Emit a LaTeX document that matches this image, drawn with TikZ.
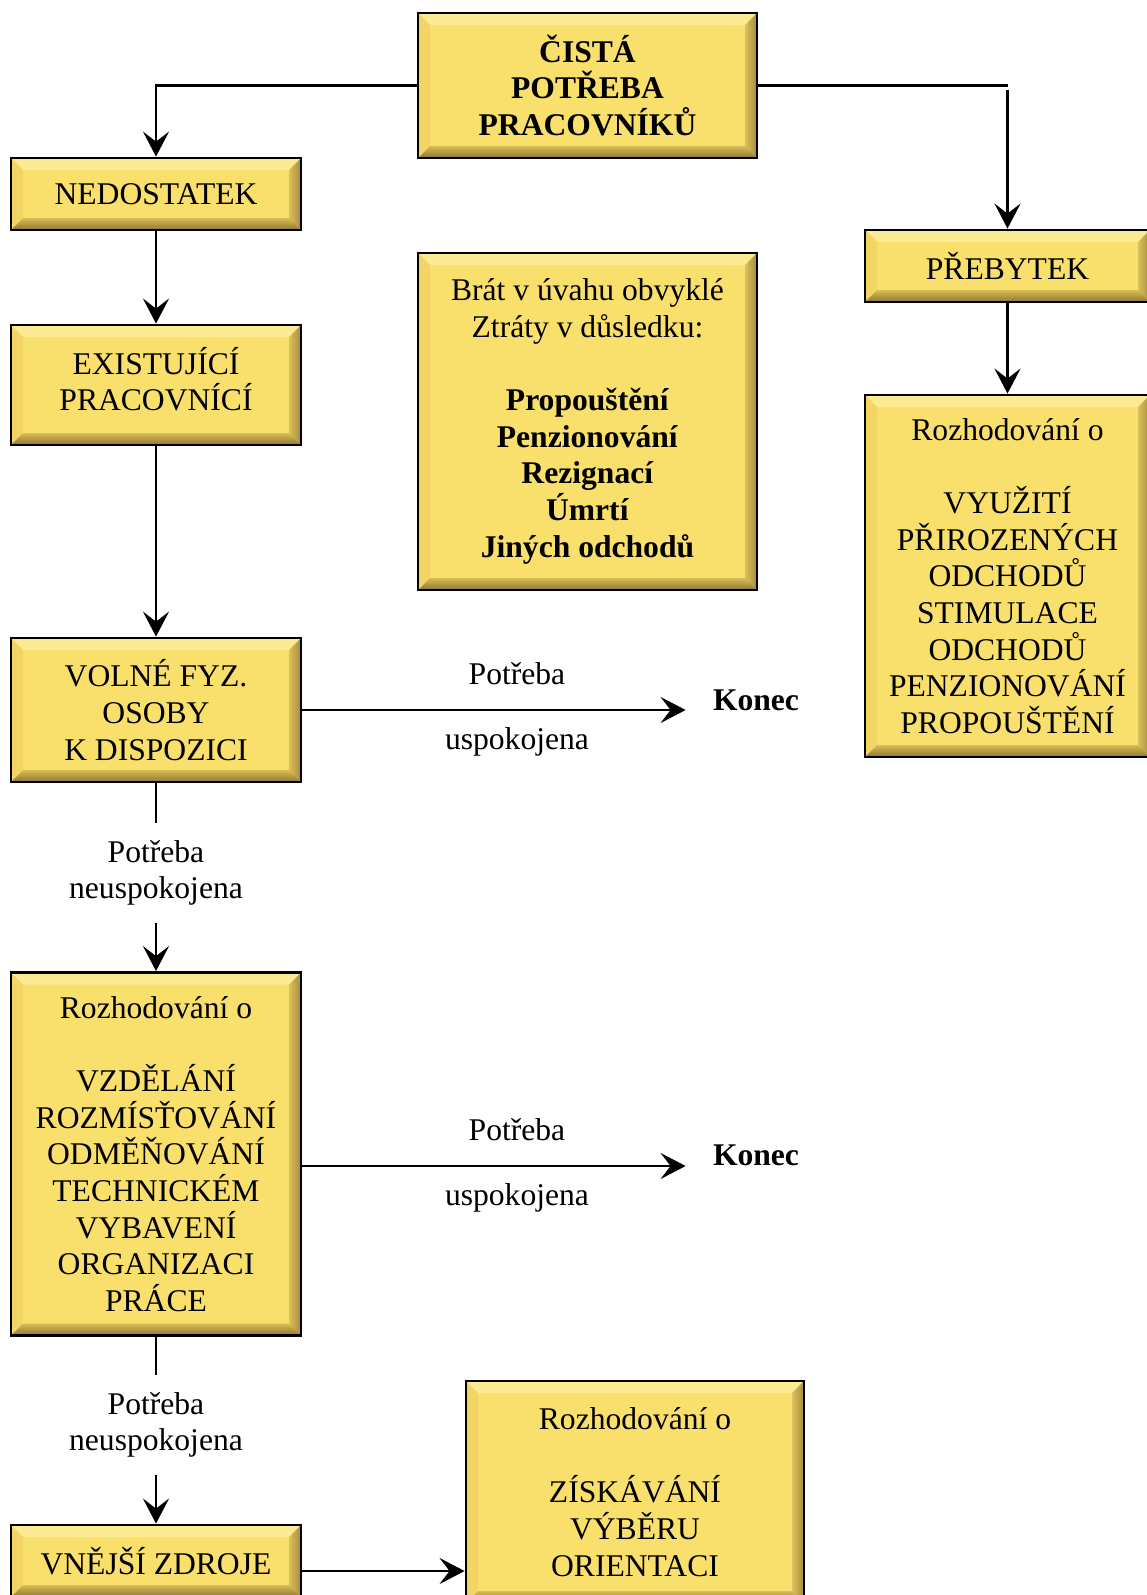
\documentclass[tikz,border=0pt]{standalone}
\usepackage{fontspec}
\setmainfont{Liberation Serif}
\usepackage{xcolor}
\usetikzlibrary{arrows.meta}

\definecolor{boxfill}{HTML}{F9DF6C}
\definecolor{bevtop}{HTML}{FCEB93}
\definecolor{bevleft}{HTML}{F3D565}
\definecolor{bevbotA}{HTML}{D8BC55}
\definecolor{bevbotB}{HTML}{8F7633}
\definecolor{bevrightA}{HTML}{DCC05A}
\definecolor{bevrightB}{HTML}{A48B3E}

\newcommand{\diafont}{\fontsize{15.8}{18.3}\selectfont}

\begin{document}
\begin{tikzpicture}[
    x=0.5pt, y=-0.5pt, line width=1.4pt,
    font=\diafont,
    box/.style={draw=black, fill=boxfill, align=center, inner sep=0pt,
      path picture={
        \path (path picture bounding box.north west) coordinate (pnw)
              (path picture bounding box.north east) coordinate (pne)
              (path picture bounding box.south west) coordinate (psw)
              (path picture bounding box.south east) coordinate (pse);
        \fill[bevtop] (pnw) -- (pne) -- ([shift={(-6pt,-6pt)}]pne) -- ([shift={(6pt,-6pt)}]pnw) -- cycle;
        \fill[bevleft] (pnw) -- ([shift={(6pt,-6pt)}]pnw) -- ([shift={(6pt,6pt)}]psw) -- (psw) -- cycle;
        \shade[left color=bevrightA, right color=bevrightB] (pne) -- (pse) -- ([shift={(-6pt,6pt)}]pse) -- ([shift={(-6pt,-6pt)}]pne) -- cycle;
        \shade[top color=bevbotA, bottom color=bevbotB] (psw) -- (pse) -- ([shift={(-6pt,6pt)}]pse) -- ([shift={(6pt,6pt)}]psw) -- cycle;
      }},
    leftcol/.style={box, minimum width=145pt},
    midcol/.style={box, minimum width=169.5pt},
    rightcol/.style={box, minimum width=142.5pt},
    bold/.style={font=\diafont\bfseries},
    lbl/.style={inner sep=0pt},
    konec/.style={bold, inner xsep=13pt, inner ysep=0pt},
    need/.style={align=center, inner sep=0pt, minimum height=48.5pt},
    arr/.style={-{Stealth[length=12.5pt,width=13pt,inset=5pt]}},
  ]
  \useasboundingbox (0,0) rectangle (1146,1595);

  % boxes
  \node[midcol, minimum height=72.5pt, bold] (cista) at (587.5,85.5) {ČISTÁ\\POTŘEBA\\PRACOVNÍKŮ};
  \node[leftcol, minimum height=36pt] (nedost) at (156,194) {NEDOSTATEK};
  \node[rightcol, minimum height=36pt] (prebyt) at (1007.5,266) {PŘEBYTEK};
  \node[leftcol, minimum height=60pt, text depth=6pt] (exist) at (156,385) {EXISTUJÍCÍ\\PRACOVNÍCÍ};
  \node[midcol, minimum height=168.5pt] (brat) at (587.5,421.5)
    {Brát v úvahu obvyklé\\Ztráty v důsledku:\\[\baselineskip]
     \textbf{Propouštění}\\\textbf{Penzionování}\\\textbf{Rezignací}\\\textbf{Úmrtí}\\\textbf{Jiných odchodů}};
  \node[rightcol, minimum height=181pt] (rozR) at (1007.5,576)
    {Rozhodování o\\[\baselineskip]VYUŽITÍ\\PŘIROZENÝCH\\ODCHODŮ\\STIMULACE\\ODCHODŮ\\PENZIONOVÁNÍ\\PROPOUŠTĚNÍ};
  \node[leftcol, minimum height=72pt] (volne) at (156,710) {VOLNÉ FYZ.\\OSOBY\\K DISPOZICI};
  \node[leftcol, minimum height=181.5pt] (rozL) at (156,1154)
    {Rozhodování o\\[\baselineskip]VZDĚLÁNÍ\\ROZMÍSŤOVÁNÍ\\ODMĚŇOVÁNÍ\\TECHNICKÉM\\VYBAVENÍ\\ORGANIZACI\\PRÁCE};
  \node[leftcol, minimum height=36pt] (vnejsi) at (156,1561) {VNĚJŠÍ ZDROJE};
  \node[box, minimum width=169pt, minimum height=111pt] (ziskav) at (635,1492)
    {Rozhodování o\\[\baselineskip]ZÍSKÁVÁNÍ\\VÝBĚRU\\ORIENTACI};

  \node[konec] (konecA) at (756,700) {Konec};
  \node[konec] (konecB) at (756,1155) {Konec};
  \node[need] (needA) at (156,873) {Potřeba\\neuspokojena};
  \node[need] (needB) at (156,1425) {Potřeba\\neuspokojena};

  % connectors
  \draw[arr] (cista.west) -| (nedost.north);
  \coordinate (rturn) at (prebyt.north |- cista.east);
  \draw (cista.east) -- (rturn);
  \draw[arr] ([yshift=-2.5pt]rturn) -- (prebyt.north);
  \draw[arr] (nedost) -- (exist);
  \draw[arr] (exist) -- (volne);
  \draw[arr] (prebyt) -- (rozR);

  \draw[arr] (volne.east) -- (volne.east -| konecA.west)
    node[lbl, pos=0.56, above=12pt] {Potřeba}
    node[lbl, pos=0.56, below=8pt] {uspokojena};
  \draw (volne) -- (needA);
  \draw[arr] (needA) -- (rozL);

  \draw[arr] ([yshift=-6pt]rozL.east) -- ([yshift=-6pt]rozL.east -| konecB.west)
    node[lbl, pos=0.56, above=12pt] {Potřeba}
    node[lbl, pos=0.56, below=8pt] {uspokojena};
  \draw (rozL) -- (needB);
  \draw[arr] (needB) -- (vnejsi);

  \draw[arr] ([yshift=-5pt]vnejsi.east) -- ([yshift=-5pt]vnejsi.east -| ziskav.west);
\end{tikzpicture}
\end{document}
